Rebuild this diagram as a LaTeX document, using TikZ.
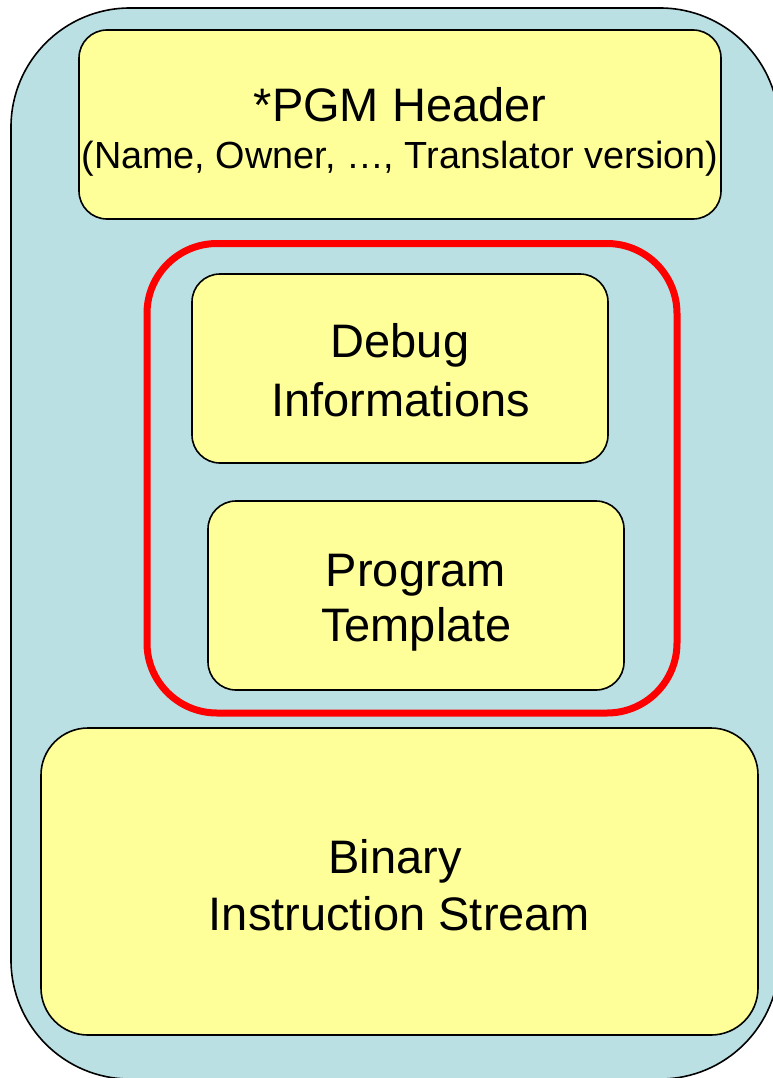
\documentclass[tikz,border=0pt]{standalone}
\usepackage{fontspec}
\setmainfont{Liberation Sans}
\definecolor{shellblue}{RGB}{187,224,227}
\definecolor{partyellow}{RGB}{255,255,153}
\definecolor{groupred}{RGB}{255,0,0}
\begin{document}
\begin{tikzpicture}[x=1pt,y=-1pt,
  shell/.style={draw=black, line width=1.6pt, fill=shellblue, rounded corners=119pt, inner sep=0pt},
  part/.style={draw=black, line width=1.6pt, fill=partyellow, rounded corners=28pt, inner sep=0pt},
  grouping/.style={draw=groupred, line width=7pt, rounded corners=70pt, inner sep=0pt},
  bigtext/.style={font=\fontsize{47}{57}\selectfont, inner sep=0pt, anchor=base},
  smalltext/.style={font=\fontsize{37.8}{44}\selectfont, inner sep=0pt, anchor=base},
]
\useasboundingbox (0,0) rectangle (773,1078);
\clip (0,0) rectangle (773,1078);

% outer container
\node[shell, minimum width=768pt, minimum height=1071pt] (container) at (395,543.5) {};

% program header
\node[part, minimum width=642pt, minimum height=189pt] (header) at (400,124.5) {};
\node[bigtext] (headtitle) at (400,121.7) {*PGM Header};
\node[smalltext] (headfields) at (400,168.3) {(Name, Owner, …, Translator version)};

% optional group: debug information and template
\node[grouping, minimum width=530pt, minimum height=469.5pt] (optional) at (412,478.25) {};
\node[part, minimum width=416pt, minimum height=189pt] (debug) at (400,368.5) {};
\node[bigtext] (debugA) at (400,357.7) {Debug};
\node[bigtext] (debugB) at (400.5,416) {Informations};
\node[part, minimum width=416pt, minimum height=189pt] (template) at (416,595.5) {};
\node[bigtext] (templateA) at (416,586) {Program};
\node[bigtext] (templateB) at (416.5,641.7) {Template};

% instruction stream
\node[part, rounded corners=47pt, minimum width=717pt, minimum height=307pt] (stream) at (399.5,881.5) {};
\node[bigtext] (streamA) at (395,873) {Binary};
\node[bigtext] (streamB) at (399.5,930) {Instruction Stream};
\end{tikzpicture}
\end{document}
